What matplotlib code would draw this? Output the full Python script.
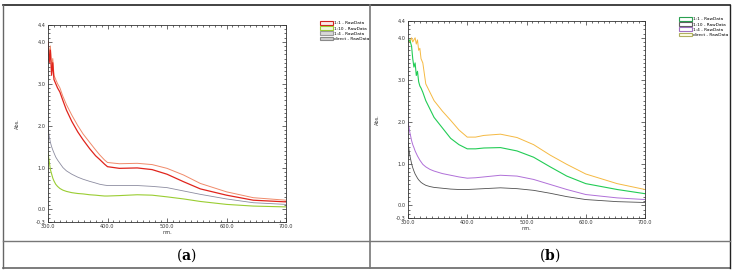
import numpy as np
import matplotlib.pyplot as plt
from matplotlib.lines import Line2D
from matplotlib.patches import Patch
from matplotlib.ticker import MultipleLocator, FixedLocator

plt.rcParams["mathtext.fontset"] = "dejavuserif"

# ---- data (wavelength nm, absorbance) ----
wl_a = [300, 302, 304, 306, 308, 310, 313, 316, 320, 325, 331, 340, 350, 359,
        370, 380, 387, 395, 400, 420, 450, 475, 500, 528, 556, 600, 645, 700]
a_11 = [4.0, 3.5, 3.8, 3.2, 3.5, 3.1, 3.0, 2.9, 2.8, 2.6, 2.37, 2.1, 1.85, 1.66,
        1.45, 1.28, 1.19, 1.08, 1.02, 0.98, 0.99, 0.95, 0.84, 0.66, 0.49, 0.34, 0.22, 0.18]
a_direct = [4.0, 3.7, 3.9, 3.4, 3.6, 3.2, 3.1, 3.0, 2.9, 2.7, 2.5, 2.25, 2.0, 1.8,
            1.6, 1.42, 1.3, 1.18, 1.12, 1.09, 1.1, 1.07, 0.98, 0.82, 0.62, 0.42, 0.28, 0.22]
a_14 = [1.95, 1.75, 1.6, 1.5, 1.42, 1.35, 1.25, 1.18, 1.1, 1.0, 0.92, 0.84, 0.77, 0.72,
        0.67, 0.63, 0.6, 0.58, 0.57, 0.57, 0.57, 0.55, 0.52, 0.44, 0.36, 0.25, 0.16, 0.12]
a_110 = [1.35, 1.15, 0.95, 0.85, 0.75, 0.68, 0.6, 0.55, 0.5, 0.46, 0.43, 0.4, 0.38, 0.37,
         0.35, 0.34, 0.33, 0.32, 0.32, 0.33, 0.35, 0.34, 0.3, 0.25, 0.19, 0.12, 0.08, 0.06]

wl_b = [300, 303, 306, 308, 310, 312, 314, 316, 318, 320, 322, 325, 330, 337, 344,
        358, 372, 386, 400, 414, 428, 456, 484, 512, 540, 568, 600, 653, 700]
b_11 = [3.9, 3.95, 3.8, 3.5, 3.3, 3.4, 3.1, 3.2, 2.95, 2.85, 2.8, 2.7, 2.5, 2.3, 2.1,
        1.85, 1.6, 1.45, 1.35, 1.35, 1.37, 1.38, 1.3, 1.15, 0.92, 0.7, 0.52, 0.38, 0.28]
b_direct = [3.95, 3.9, 4.0, 3.9, 3.95, 4.0, 3.85, 3.95, 3.7, 3.75, 3.5, 3.4, 2.9, 2.7, 2.5,
            2.25, 2.03, 1.8, 1.63, 1.63, 1.67, 1.7, 1.62, 1.45, 1.2, 0.98, 0.75, 0.52, 0.38]
b_14 = [2.0, 1.75, 1.55, 1.45, 1.38, 1.3, 1.24, 1.18, 1.13, 1.08, 1.04, 0.98, 0.92, 0.86, 0.82,
        0.76, 0.72, 0.68, 0.65, 0.66, 0.68, 0.72, 0.7, 0.62, 0.5, 0.38, 0.26, 0.18, 0.14]
b_110 = [1.5, 1.2, 1.0, 0.9, 0.82, 0.75, 0.7, 0.65, 0.61, 0.58, 0.55, 0.52, 0.48, 0.45, 0.43,
         0.41, 0.39, 0.38, 0.38, 0.39, 0.4, 0.42, 0.4, 0.36, 0.29, 0.21, 0.14, 0.09, 0.07]

labels = ["1:1 - RawData", "1:10 - RawData", "1:4 - RawData", "direct - RawData"]
yticks = [-0.3, 0.0, 1.0, 2.0, 3.0, 4.0, 4.4]
xticks = [300, 400, 500, 600, 700]

W, H = 734, 273
fig = plt.figure(figsize=(W / 100, H / 100), dpi=100)


def px_axes(x0, y0, x1, y1):
    # pixel box (top-left origin) -> figure fraction
    return fig.add_axes([x0 / W, 1 - y1 / H, (x1 - x0) / W, (y1 - y0) / H])


def style_axes(ax):
    ax.set_xlim(300, 700)
    ax.set_ylim(-0.3, 4.4)
    ax.yaxis.set_major_locator(FixedLocator(yticks))
    ax.set_yticklabels([f"{v:.1f}" for v in yticks])
    ax.xaxis.set_major_locator(FixedLocator(xticks))
    ax.set_xticklabels([f"{v:.1f}" for v in xticks])
    ax.xaxis.set_minor_locator(MultipleLocator(10))
    ax.yaxis.set_minor_locator(MultipleLocator(0.1))
    ax.tick_params(which="both", direction="in", top=True, right=True,
                   labelsize=3.6, colors="#333333", width=0.5, pad=1.5)
    ax.tick_params(which="major", length=3)
    ax.tick_params(which="minor", length=1.5)
    for s in ax.spines.values():
        s.set_linewidth(0.6)
        s.set_color("#333333")
    ax.set_xlabel("nm.", fontsize=3.6, labelpad=0.5, color="#333333")
    ax.set_ylabel("Abs.", fontsize=3.6, labelpad=12, color="#333333")


def legend_box(x0, y0, edge_cols, face_cols):
    handles = [Patch(facecolor=f, edgecolor=e, linewidth=0.8)
               for e, f in zip(edge_cols, face_cols)]
    fig.legend(handles, labels, loc="upper left",
               bbox_to_anchor=(x0 / W, 1 - y0 / H), frameon=False,
               fontsize=3.1, handlelength=3.0, handleheight=0.9,
               handletextpad=0.15, labelspacing=0.2, borderpad=0)


# ---- panel (a) ----
ax1 = px_axes(48, 25, 286, 222)
ax1.plot(wl_a, a_direct, color="#f08a6a", lw=0.7)
ax1.plot(wl_a, a_11, color="#e0241c", lw=0.9)
ax1.plot(wl_a, a_14, color="#8c8ca0", lw=0.6)
ax1.plot(wl_a, a_110, color="#9acd32", lw=0.8)
style_axes(ax1)
legend_box(318, 19, ["#d02020", "#9acd32", "#9a9a9a", "#8a8a8a"],
           ["#fbe8e8", "#eef7dd", "#d8d8d8", "#cfcfcf"])

# ---- panel (b) ----
ax2 = px_axes(408, 21, 645, 218)
ax2.plot(wl_b, b_direct, color="#f5b942", lw=0.7)
ax2.plot(wl_b, b_11, color="#22cc55", lw=0.8)
ax2.plot(wl_b, b_14, color="#b070d8", lw=0.7)
ax2.plot(wl_b, b_110, color="#505050", lw=0.6)
style_axes(ax2)
legend_box(677, 15, ["#2aa050", "#606060", "#a070c0", "#b0b060"],
           ["#ffffff", "#ffffff", "#ffffff", "#ffffe8"])

# ---- table frame ----
def fig_line(x0, y0, x1, y1, lw=1.0, color="#555555"):
    fig.add_artist(Line2D([x0 / W, x1 / W], [1 - y0 / H, 1 - y1 / H],
                          transform=fig.transFigure, lw=lw, color=color))

fig_line(3, 5, 730, 5, lw=1.2, color="#222222")
fig_line(3, 268, 730, 268, lw=1.2, color="#666666")
fig_line(3, 5, 3, 268, lw=1.0, color="#666666")
fig_line(730, 5, 730, 268, lw=1.0, color="#222222")
fig_line(370, 5, 370, 268, lw=1.2, color="#777777")
fig_line(3, 241, 730, 241, lw=1.0, color="#777777")

for cx, letter in [(186, "a"), (550, "b")]:
    fig.text(cx / W, 1 - 255 / H, "(" + r"$\mathbf{" + letter + "}$" + ")",
             ha="center", va="center", fontsize=10, family="DejaVu Serif")

fig.savefig("out.png", dpi=100)
